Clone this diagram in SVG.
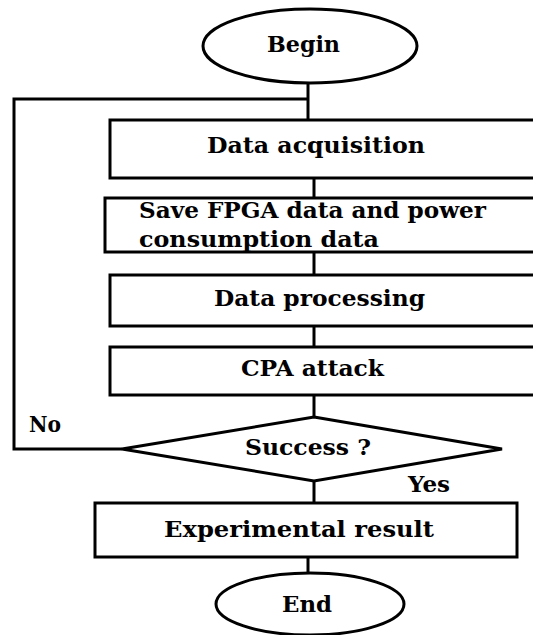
<svg xmlns="http://www.w3.org/2000/svg" width="533" height="635" viewBox="0 0 533 635">
  <style>
    .shape { fill: #ffffff; stroke: #000000; stroke-width: 3; }
    .wire { fill: none; stroke: #000000; stroke-width: 3; }
    text { font-family: "DejaVu Serif", "Liberation Serif", serif; font-weight: bold; font-size: 22px; fill: #000000; }
  </style>
  <rect width="533" height="635" fill="#ffffff"/>

  <!-- connectors -->
  <g id="connectors">
    <line class="wire" x1="308" y1="83" x2="308" y2="120"/>
    <line class="wire" x1="314" y1="178" x2="314" y2="198"/>
    <line class="wire" x1="314" y1="252" x2="314" y2="275"/>
    <line class="wire" x1="314" y1="326" x2="314" y2="347"/>
    <line class="wire" x1="314" y1="395" x2="314" y2="417"/>
    <line class="wire" x1="314" y1="481" x2="314" y2="503"/>
    <line class="wire" x1="308" y1="557" x2="308" y2="573"/>
    <!-- retry loop -->
    <polyline class="wire" points="122,449 14,449 14,99 308,99"/>
    <text x="29" y="432" textLength="32" lengthAdjust="spacingAndGlyphs">No</text>
    <text x="408" y="492" textLength="42" lengthAdjust="spacingAndGlyphs">Yes</text>
  </g>

  <g id="begin">
    <ellipse class="shape" cx="310" cy="46" rx="107" ry="37"/>
    <text x="267" y="52" textLength="73" lengthAdjust="spacingAndGlyphs">Begin</text>
  </g>

  <g id="acquisition">
    <rect class="shape" x="110" y="120" width="440" height="58"/>
    <text x="207" y="153" textLength="218" lengthAdjust="spacingAndGlyphs">Data  acquisition</text>
  </g>

  <g id="save">
    <rect class="shape" x="105" y="198" width="445" height="54"/>
    <text x="139" y="218" textLength="347" lengthAdjust="spacingAndGlyphs">Save FPGA data and power</text>
    <text x="139" y="247" textLength="240" lengthAdjust="spacingAndGlyphs">consumption  data</text>
  </g>

  <g id="processing">
    <rect class="shape" x="110" y="275" width="440" height="51"/>
    <text x="214" y="306" textLength="211" lengthAdjust="spacingAndGlyphs">Data  processing</text>
  </g>

  <g id="cpa">
    <rect class="shape" x="110" y="347" width="440" height="48"/>
    <text x="241" y="376" textLength="143" lengthAdjust="spacingAndGlyphs">CPA attack</text>
  </g>

  <g id="success">
    <polygon class="shape" points="314,417 502,449 314,481 122,449"/>
    <text x="245" y="455" textLength="126" lengthAdjust="spacingAndGlyphs">Success  ?</text>
  </g>

  <g id="result">
    <rect class="shape" x="95" y="503" width="422" height="54"/>
    <text x="164" y="537" textLength="270" lengthAdjust="spacingAndGlyphs">Experimental  result</text>
  </g>

  <g id="end">
    <ellipse class="shape" cx="310" cy="604" rx="94" ry="31"/>
    <text x="282" y="612" textLength="50" lengthAdjust="spacingAndGlyphs">End</text>
  </g>
</svg>
